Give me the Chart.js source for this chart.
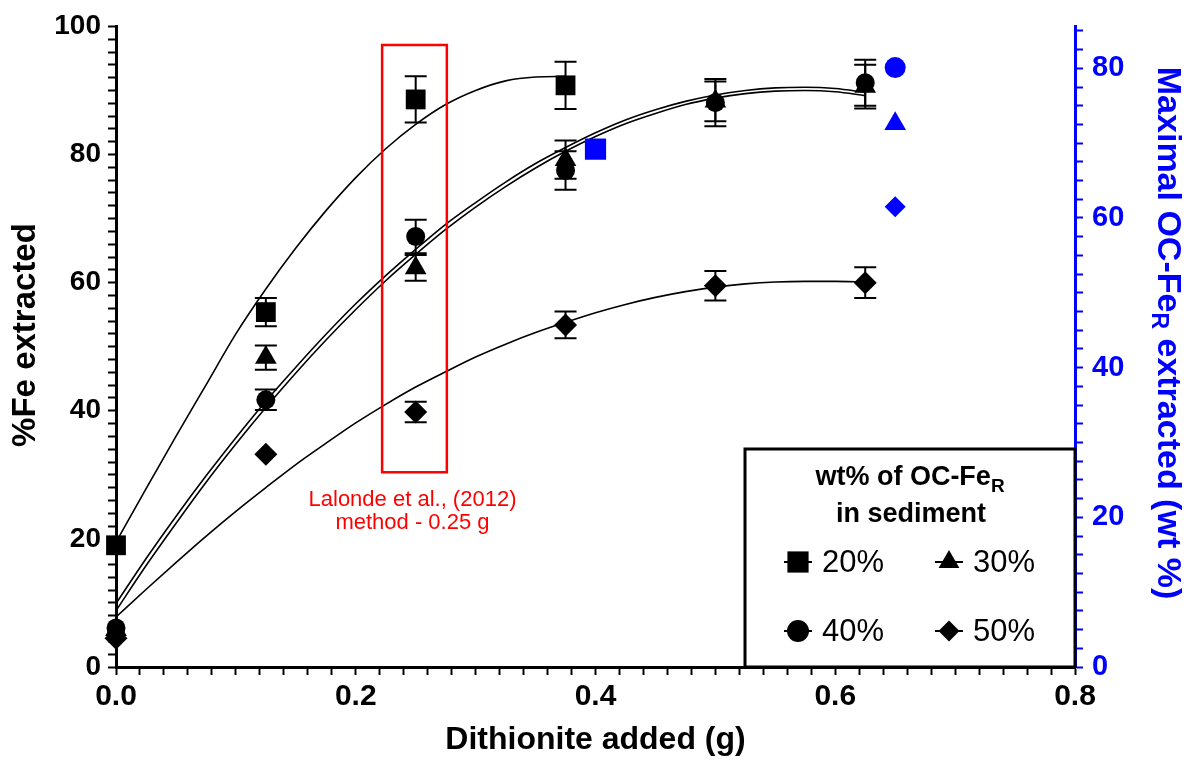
<!DOCTYPE html>
<html>
<head>
<meta charset="utf-8">
<script src="https://cdn.jsdelivr.net/npm/chart.js@4.4.0/dist/chart.umd.min.js"></script>
<style>
  html, body { margin: 0; padding: 0; background: #fff; }
</style>
</head>
<body>
<canvas id="myChart" width="1191" height="761"></canvas>
<script>
const FONT = '"Liberation Sans", Arial, sans-serif';
const BLUE = '#0000ff';
const RED = '#ff0000';

// dithionite added (g)
const doses = [0, 0.125, 0.25, 0.375, 0.5, 0.625];

// %Fe extracted for each wt% of OC-FeR in sediment
const fe20 = [19.0, 55.4, 88.6, 90.8, null, null];
const fe30 = [5.8, 48.3, 62.3, 79.2, 88.3, 90.6];
const fe40 = [6.1, 41.7, 67.2, 77.5, 88.1, 91.2];
const fe50 = [4.5, 33.2, 39.8, 53.4, 59.5, 60.0];

// error bars (+/-)
const err20 = [0, 2.2, 3.6, 3.7, null, null];
const err30 = [0, 1.9, 2.0, 3.0, 3.1, 3.4];
const err40 = [0, 1.6, 2.6, 3.0, 3.7, 3.6];
const err50 = [0, 0, 1.6, 2.1, 2.3, 2.4];

// fitted curves
const fitX20 = [0, 0.025, 0.05, 0.075, 0.1, 0.125, 0.15, 0.175, 0.2, 0.225, 0.25, 0.275, 0.3, 0.325, 0.35, 0.375];
const fit20 = [19.5, 27.8, 36.0, 44.0, 52.0, 59.0, 65.4, 71.2, 76.4, 80.9, 84.7, 87.8, 90.0, 91.5, 92.1, 92.2];
const fitX = [0, 0.025, 0.05, 0.075, 0.1, 0.125, 0.15, 0.175, 0.2, 0.225, 0.25, 0.275, 0.3,
              0.325, 0.35, 0.375, 0.4, 0.425, 0.45, 0.475, 0.5, 0.525, 0.55, 0.575, 0.6, 0.625];
const fit30 = [8.8, 15.8, 22.4, 28.8, 34.8, 40.5, 45.9, 51.0, 55.8, 60.3, 64.4, 68.3, 71.8,
               75.0, 77.9, 80.5, 82.8, 84.8, 86.4, 87.8, 88.8, 89.5, 89.9, 90.0, 89.8, 89.2];
const fit40 = [9.9, 16.9, 23.5, 29.8, 35.8, 41.5, 46.8, 51.9, 56.7, 61.1, 65.2, 69.1, 72.5,
               75.7, 78.6, 81.1, 83.4, 85.4, 87.0, 88.3, 89.3, 90.0, 90.4, 90.5, 90.3, 89.7];
const fit50 = [7.8, 12.1, 16.3, 20.4, 24.3, 28.0, 31.6, 34.9, 38.1, 41.0, 43.7, 46.1, 48.4,
               50.4, 52.2, 53.8, 55.3, 56.6, 57.7, 58.6, 59.3, 59.8, 60.1, 60.2, 60.2, 60.1];

// maximal OC-FeR extracted (wt %), right axis
const maxLabels = ['20%', '30%', '40%', '50%'];
const maxX = [0.4, 0.65, 0.65, 0.65];
const maxVals = [69.2, 72.6, 80.1, 61.5];

// Lalonde et al. (2012) box: x range (g) and y range (%Fe)
const boxX = [0.222, 0.276];
const boxY = [30.4, 97.1];

const styles = ['rect', 'triangle', 'circle', 'rectRot'];
const radii = [14, 12.5, 9.5, 11.5];

function pts(xs, ys, es) {
  return xs.map((x, i) => ({ x: x, y: ys[i], e: es ? es[i] : 0 })).filter(p => p.y !== null);
}

function pointSet(label, ys, es, i) {
  return {
    label: label, data: pts(doses, ys, es), errorBars: true,
    pointStyle: styles[i], pointRadius: radii[i], pointHoverRadius: radii[i],
    backgroundColor: '#000', borderColor: '#000', borderWidth: 0,
    clip: false, order: 1
  };
}

function curveSet(xs, ys) {
  return {
    data: pts(xs, ys), showLine: true, pointRadius: 0, borderColor: '#000',
    borderWidth: 1.6, fill: false, cubicInterpolationMode: 'monotone', order: 2
  };
}

function blueSet(i) {
  const r = [15, 12.5, 10.5, 10.5][i];
  return {
    label: 'max ' + maxLabels[i], data: [{ x: maxX[i], y: maxVals[i] }], yAxisID: 'y2',
    pointStyle: styles[i], pointRadius: r, pointHoverRadius: r,
    backgroundColor: BLUE, borderColor: BLUE, borderWidth: 0, clip: false, order: 1
  };
}

function marker(ctx, style, x, y, r) {
  ctx.beginPath();
  if (style === 'rect') {
    const s = r * Math.SQRT1_2;
    ctx.rect(x - s, y - s, 2 * s, 2 * s);
  } else if (style === 'circle') {
    ctx.arc(x, y, r, 0, 2 * Math.PI);
  } else if (style === 'triangle') {
    ctx.moveTo(x, y - r); ctx.lineTo(x + r * 0.866, y + r / 2); ctx.lineTo(x - r * 0.866, y + r / 2); ctx.closePath();
  } else {
    ctx.moveTo(x, y - r); ctx.lineTo(x + r, y); ctx.lineTo(x, y + r); ctx.lineTo(x - r, y); ctx.closePath();
  }
  ctx.fill();
}

const errorBars = {
  id: 'errorBars',
  beforeDatasetsDraw(chart) {
    const { ctx, scales: { x, y } } = chart;
    ctx.save();
    ctx.strokeStyle = '#000';
    ctx.lineWidth = 2;
    chart.data.datasets.forEach(ds => {
      if (!ds.errorBars) return;
      ds.data.forEach(p => {
        if (!p.e) return;
        const px = x.getPixelForValue(p.x);
        const top = y.getPixelForValue(p.y + p.e);
        const bot = y.getPixelForValue(p.y - p.e);
        ctx.beginPath();
        ctx.moveTo(px, top); ctx.lineTo(px, bot);
        ctx.moveTo(px - 11, top); ctx.lineTo(px + 11, top);
        ctx.moveTo(px - 11, bot); ctx.lineTo(px + 11, bot);
        ctx.stroke();
      });
    });
    ctx.restore();
  }
};

const extras = {
  id: 'extras',
  afterDatasetsDraw(chart) {
    const { ctx, scales: { x, y } } = chart;
    // red box + note
    const x0 = x.getPixelForValue(boxX[0]), x1 = x.getPixelForValue(boxX[1]);
    const y0 = y.getPixelForValue(boxY[1]), y1 = y.getPixelForValue(boxY[0]);
    ctx.save();
    ctx.strokeStyle = RED;
    ctx.lineWidth = 2.5;
    ctx.strokeRect(x0, y0, x1 - x0, y1 - y0);
    ctx.fillStyle = RED;
    ctx.font = '22px ' + FONT;
    ctx.textAlign = 'center';
    ctx.textBaseline = 'alphabetic';
    const cx = (x0 + x1) / 2 - 2;
    ctx.fillText('Lalonde et al., (2012)', cx, y1 + 34);
    ctx.fillText('method - 0.25 g', cx, y1 + 57);
    ctx.restore();
  },
  afterDraw(chart) {
    const { ctx, chartArea: a } = chart;
    ctx.save();
    ctx.textBaseline = 'middle';
    ctx.textAlign = 'center';

    // left axis title
    ctx.save();
    ctx.translate(26, 335);
    ctx.rotate(-Math.PI / 2);
    ctx.fillStyle = '#000';
    ctx.font = 'bold 33px ' + FONT;
    ctx.fillText('%Fe extracted', 0, 0);
    ctx.restore();

    // right axis title with subscript
    ctx.save();
    ctx.translate(1167, 333);
    ctx.rotate(Math.PI / 2);
    ctx.fillStyle = BLUE;
    ctx.textAlign = 'left';
    const big = 'bold 34px ' + FONT, small = 'bold 23px ' + FONT;
    const parts = [['Maximal OC-Fe', big, 0], ['R', small, 9], [' extracted (wt %)', big, 0]];
    let w = 0;
    parts.forEach(p => { ctx.font = p[1]; w += ctx.measureText(p[0]).width; });
    let tx = -w / 2;
    parts.forEach(p => { ctx.font = p[1]; ctx.fillText(p[0], tx, p[2]); tx += ctx.measureText(p[0]).width; });
    ctx.restore();

    // legend box
    const L = a.right - 330, T = a.bottom - 218;
    ctx.fillStyle = '#fff';
    ctx.fillRect(L, T, a.right - L, a.bottom - T);
    ctx.strokeStyle = '#000';
    ctx.lineWidth = 3;
    ctx.strokeRect(L, T, a.right - L, a.bottom - T);
    ctx.fillStyle = '#000';
    const mid = (L + a.right) / 2;
    ctx.textAlign = 'left';
    ctx.textBaseline = 'alphabetic';
    const t1 = 'wt% of OC-Fe';
    ctx.font = 'bold 27px ' + FONT;
    const w1 = ctx.measureText(t1).width;
    ctx.font = 'bold 19px ' + FONT;
    const w2 = ctx.measureText('R').width;
    ctx.font = 'bold 27px ' + FONT;
    ctx.fillText(t1, mid - (w1 + w2) / 2, T + 36);
    ctx.font = 'bold 19px ' + FONT;
    ctx.fillText('R', mid - (w1 + w2) / 2 + w1, T + 43);
    ctx.font = 'bold 27px ' + FONT;
    ctx.textAlign = 'center';
    ctx.fillText('in sediment', mid + 1, T + 73);

    const legR = [15, 12, 11, 10.5];
    [0, 1, 2, 3].forEach(i => {
      const col = i % 2, row = Math.floor(i / 2);
      const mx = L + 53 + col * 151, my = T + 113 + row * 69;
      ctx.strokeStyle = '#000';
      ctx.lineWidth = 2;
      ctx.beginPath(); ctx.moveTo(mx - 14, my); ctx.lineTo(mx + 14, my); ctx.stroke();
      marker(ctx, styles[i], mx, my, legR[i]);
      ctx.font = '31px ' + FONT;
      ctx.textAlign = 'left';
      ctx.textBaseline = 'middle';
      ctx.fillText(maxLabels[i], mx + 24, my + 1);
    });
    ctx.restore();
  }
};

const ctx = document.getElementById('myChart');

new Chart(ctx, {
  type: 'scatter',
  data: {
    datasets: [
      pointSet('20%', fe20, err20, 0),
      pointSet('30%', fe30, err30, 1),
      pointSet('40%', fe40, err40, 2),
      pointSet('50%', fe50, err50, 3),
      blueSet(0), blueSet(1), blueSet(2), blueSet(3),
      curveSet(fitX20, fit20),
      curveSet(fitX, fit30),
      curveSet(fitX, fit40),
      curveSet(fitX, fit50)
    ]
  },
  options: {
    responsive: false,
    animation: false,
    layout: { padding: { top: 25, left: 0, right: 0, bottom: 0 } },
    plugins: { legend: { display: false }, tooltip: { enabled: false } },
    scales: {
      x: {
        type: 'linear', position: 'bottom', min: 0, max: 0.8,
        ticks: {
          stepSize: 0.02, autoSkip: false, maxRotation: 0, padding: 4, color: '#000',
          font: { family: FONT, size: 30, weight: 'bold' },
          callback: v => (Math.abs(v * 5 - Math.round(v * 5)) < 1e-6 ? v.toFixed(1) : '')
        },
        grid: { drawOnChartArea: false, tickLength: 8, tickWidth: 2, tickColor: '#000' },
        border: { color: '#000', width: 3 },
        title: {
          display: true, text: 'Dithionite added (g)', color: '#000',
          font: { family: FONT, size: 32, weight: 'bold', lineHeight: 1.2 },
          padding: { top: 0, bottom: 2 }
        },
        afterFit: s => { s.height = 94; }
      },
      y: {
        type: 'linear', position: 'left', min: 0, max: 100,
        ticks: {
          stepSize: 2, autoSkip: false, padding: 7, color: '#000',
          font: { family: FONT, size: 28, weight: 'bold' },
          callback: v => (v % 20 === 0 ? String(v) : '')
        },
        grid: { drawOnChartArea: false, tickLength: 8, tickWidth: 2, tickColor: '#000' },
        border: { color: '#000', width: 3 },
        afterFit: s => { s.width = 116; }
      },
      y2: {
        type: 'linear', position: 'right', min: 0, max: 85.6,
        ticks: {
          stepSize: 2.5, autoSkip: false, includeBounds: false, padding: 9, color: BLUE,
          font: { family: FONT, size: 29, weight: 'bold' },
          callback: v => (v % 20 === 0 ? String(v) : '')
        },
        grid: { drawOnChartArea: false, tickLength: 8, tickWidth: 2, tickColor: BLUE },
        border: { color: BLUE, width: 3 },
        afterFit: s => { s.width = 116; }
      }
    }
  },
  plugins: [errorBars, extras]
});
</script>
</body>
</html>
